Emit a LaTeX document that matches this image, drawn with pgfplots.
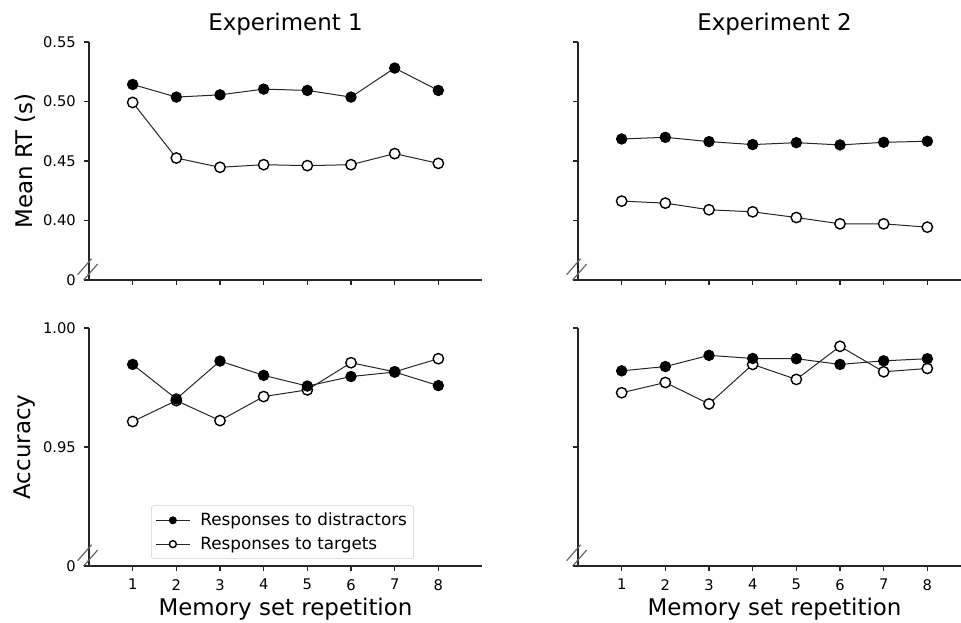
\documentclass[border=0pt]{standalone}
\usepackage{pgfplots}
\usepackage{pgfplotstable}
\pgfplotsset{compat=1.18}
\usepackage{fontspec}
\setmainfont{DejaVu Sans}

% Mean RT (s): responses to distractors / targets
\pgfplotstableread{
rep dist targ
1 0.5143 0.4992
2 0.5037 0.4525
3 0.5056 0.4447
4 0.5104 0.4469
5 0.5093 0.4461
6 0.5037 0.4469
7 0.5281 0.4562
8 0.5093 0.4480
}\rtA
\pgfplotstableread{
rep dist targ
1 0.4685 0.4163
2 0.4699 0.4146
3 0.4663 0.4090
4 0.4638 0.4073
5 0.4654 0.4025
6 0.4635 0.3972
7 0.4657 0.3972
8 0.4666 0.3944
}\rtB
% Accuracy
\pgfplotstableread{
rep dist targ
1 0.9847 0.9607
2 0.9702 0.9695
3 0.9861 0.9611
4 0.9801 0.9712
5 0.9756 0.9740
6 0.9796 0.9854
7 0.9815 0.9816
8 0.9758 0.9871
}\accA
\pgfplotstableread{
rep dist targ
1 0.9820 0.9728
2 0.9838 0.9771
3 0.9885 0.9681
4 0.9872 0.9847
5 0.9871 0.9784
6 0.9847 0.9923
7 0.9862 0.9816
8 0.9871 0.9830
}\accB

\newcommand{\axisbreak}{%
  \draw[black!60, line width=0.9pt]
    ([xshift=-8.5pt,yshift=4pt]rel axis cs:0,0) -- ++(10.5pt,12pt)
    ([xshift=-4pt,yshift=0pt]rel axis cs:0,0) -- ++(10.5pt,12pt);}

\pgfplotsset{
  panel/.style={
    scale only axis, width=294.75pt, height=178.5pt,
    xmin=0, xmax=9, xtick={1,...,8},
    axis lines*=left,
    axis line style={line width=1pt, black!85, -},
    tick align=outside, major tick length=3.75pt,
    tick style={line width=1pt, black!85},
    tick label style={font=\fontsize{11}{13}\selectfont},
    xticklabel style={anchor=north, inner sep=0pt, yshift=-6pt},
    yticklabel style={anchor=east, inner sep=0pt, xshift=-6pt},
    label style={font=\fontsize{17.2}{20}\selectfont},
    title style={font=\fontsize{17.2}{20}\selectfont, at={(0.5,1)},
      anchor=base, inner sep=0pt, yshift=2.5pt},
    xlabel style={at={(0.5,0)}, anchor=base, inner sep=0pt, yshift=-36.75pt},
    ylabel style={at={([xshift=-48pt]axis description cs:0,0.5)},
      anchor=center, inner sep=0pt},
    clip=false,
  },
  rtpanel/.style={panel, ymin=0.35, ymax=0.55,
    ytick={0.35,0.40,0.45,0.50,0.55}},
  accpanel/.style={panel, ymin=0.90, ymax=1.00,
    ytick={0.90,0.95,1.00}},
  dist/.style={black!85, line width=0.75pt, mark=*, mark size=3.9pt,
    mark options={fill=black, draw=black}},
  targ/.style={black!85, line width=0.75pt, mark=*, mark size=3.9pt,
    mark options={fill=white, draw=black, line width=1.05pt}},
}

\begin{document}
\begin{tikzpicture}
% Experiment 1, mean RT
\begin{axis}[rtpanel, at={(66.75pt,256.5pt)}, anchor=south west,
  title={Experiment 1}, ylabel={Mean RT (s)},
  xticklabels={}, yticklabels={0,0.40,0.45,0.50,0.55}]
  \addplot[targ] table[x=rep, y=targ] {\rtA};
  \addplot[dist] table[x=rep, y=dist] {\rtA};
  \axisbreak
\end{axis}
% Experiment 2, mean RT
\begin{axis}[rtpanel, at={(433.5pt,256.5pt)}, anchor=south west,
  title={Experiment 2}, xticklabels={}, yticklabels={}]
  \addplot[targ] table[x=rep, y=targ] {\rtB};
  \addplot[dist] table[x=rep, y=dist] {\rtB};
  \axisbreak
\end{axis}
% Experiment 1, accuracy
\begin{axis}[accpanel, at={(66.75pt,42pt)}, anchor=south west,
  xlabel={Memory set repetition}, ylabel={Accuracy},
  xticklabels={1,2,3,4,5,6,7,8},
  yticklabels={0,0.95,1.00},
  reverse legend,
  legend cell align=left,
  legend style={at={(0.158,0.03)}, anchor=south west,
    draw=black!20, rounded corners=2pt, fill=white,
    font=\fontsize{12.6}{14}\selectfont, inner xsep=3pt, inner ysep=3.5pt,
    row sep=3pt,
    /tikz/every odd column/.append style={column sep=5.5pt}},
  legend image code/.code={%
    \draw[mark size=2.6pt, mark repeat=2, mark phase=2]
      plot coordinates {(0pt,0pt) (12.75pt,0pt) (25.5pt,0pt)};}]
  \addplot[targ] table[x=rep, y=targ] {\accA};
  \addlegendentry{Responses to targets}
  \addplot[dist] table[x=rep, y=dist] {\accA};
  \addlegendentry{Responses to distractors}
  \axisbreak
\end{axis}
% Experiment 2, accuracy
\begin{axis}[accpanel, at={(433.5pt,42pt)}, anchor=south west,
  xlabel={Memory set repetition},
  xticklabels={1,2,3,4,5,6,7,8}, yticklabels={}]
  \addplot[targ] table[x=rep, y=targ] {\accB};
  \addplot[dist] table[x=rep, y=dist] {\accB};
  \axisbreak
\end{axis}
\pgfresetboundingbox
\useasboundingbox (0pt,0pt) rectangle (720.75pt,466.5pt);
\end{tikzpicture}
\end{document}
